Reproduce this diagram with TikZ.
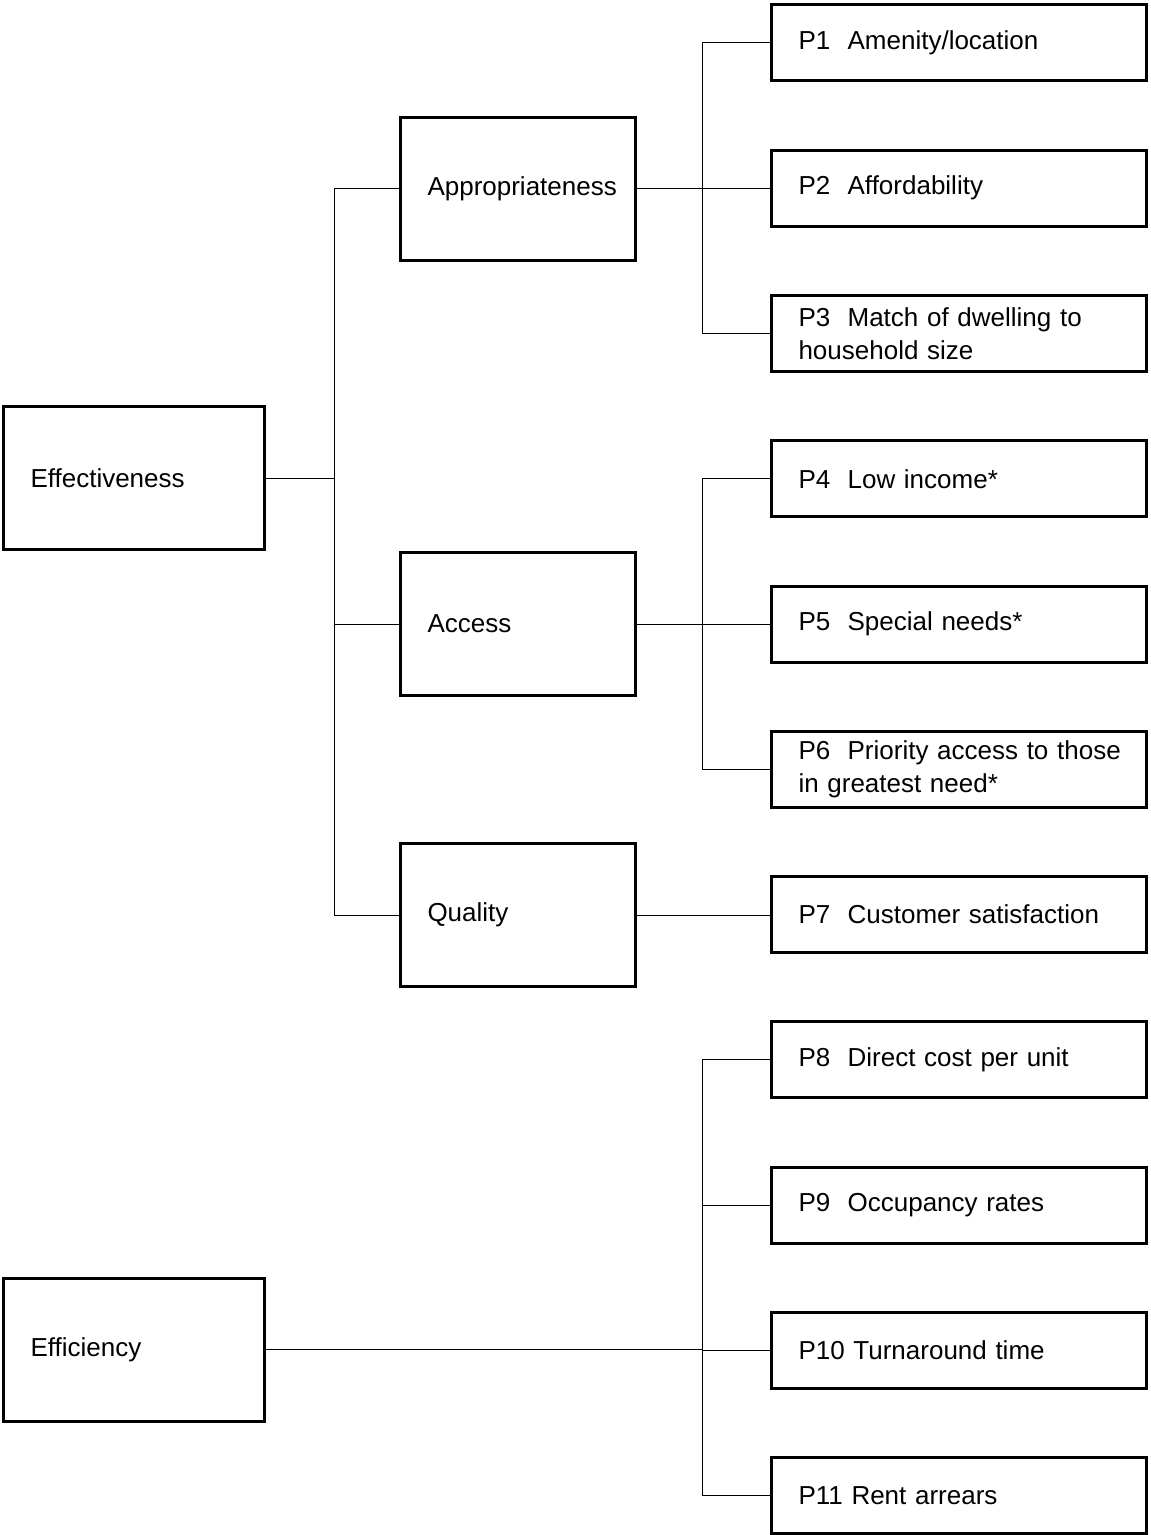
\documentclass[tikz,border=0pt]{standalone}
\usepackage{fontspec}
\setmainfont{Liberation Sans}
\usepackage{tikz}
\usetikzlibrary{positioning}

\begin{document}
\begin{tikzpicture}[x=0.5pt, y=-0.5pt,
  box/.style={draw, line width=1.5pt, anchor=west, align=left, inner xsep=13.5pt,
    font=\fontsize{13pt}{16.5pt}\selectfont},
  bigbox/.style={box, text width=103.5pt, minimum height=71.5pt},
  midbox/.style={box, text width=90.5pt, minimum height=71.5pt},
  pbox/.style={box, text width=160.5pt, minimum height=38pt},
  link/.style={line width=0.5pt}]
  \useasboundingbox (0,0) rectangle (1150,1535);

  % top level
  \node[bigbox] (eff) at (2, 478) {Effectiveness};
  \node[bigbox] (effc) at (2, 1349.5) {Efficiency};

  % second level
  \node[midbox] (appr) at (399, 189) {Appropriateness};
  \node[midbox] (acc) at (399, 624) {Access};
  \node[midbox] (qual) at (399, 915) {Quality};

  % indicators
  \foreach \i/\txt in {1/{P1\ \ Amenity/location}, 2/{P2\ \ Affordability},
      3/{P3\ \ Match of dwelling to\\household size}, 4/{P4\ \ Low income*},
      5/{P5\ \ Special needs*}, 6/{\mbox{P6\ \ Priority access to those}\\in greatest need*},
      7/{P7\ \ Customer satisfaction}, 8/{P8\ \ Direct cost per unit},
      9/{P9\ \ Occupancy rates}, 10/{P10 Turnaround time}, 11/{P11 Rent arrears}} {
    \node[pbox] (p\i) at (770, {43+145.25*(\i-1)}) {\txt};
  }

  % connectors
  \draw[link] (eff.east) -- ++(68,0) coordinate (s1);
  \draw[link] (s1) |- (appr.west);
  \draw[link] (s1) |- (acc.west);
  \draw[link] (s1) |- (qual.west);

  \draw[link] (appr.east) -- ++(65,0) coordinate (s2);
  \foreach \i in {1,2,3} \draw[link] (s2) |- (p\i.west);

  \draw[link] (acc.east) -- ++(65,0) coordinate (s3);
  \foreach \i in {4,5,6} \draw[link] (s3) |- (p\i.west);

  \draw[link] (qual.east) -- (qual.east -| p7.west);

  \draw[link] (effc.east) -- ++(436,0) coordinate (s4);
  \foreach \i in {8,...,11} \draw[link] (s4) |- (p\i.west);
\end{tikzpicture}
\end{document}
